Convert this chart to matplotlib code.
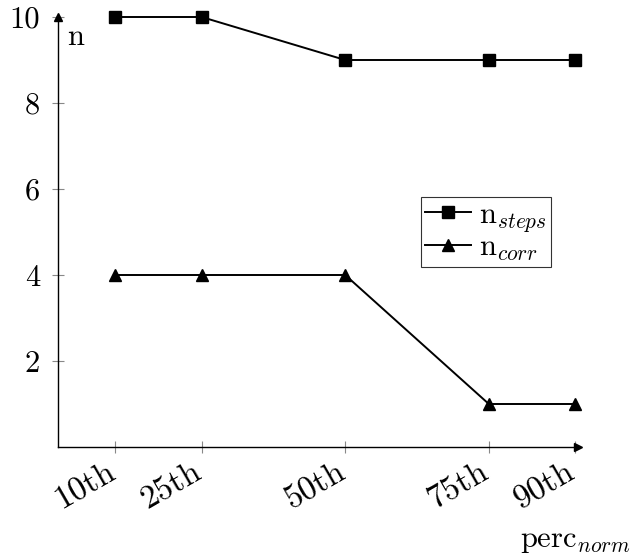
import matplotlib
matplotlib.use("Agg")
from matplotlib import pyplot as plt
from matplotlib.transforms import ScaledTranslation

percentiles = [10, 25, 50, 75, 90]
perc_labels = ["10th", "25th", "50th", "75th", "90th"]
n_steps = [10, 10, 9, 9, 9]
n_corr = [4, 4, 4, 1, 1]
y_ticks = [2, 4, 6, 8, 10]


def main():
    plt.rcParams['font.family'] = 'cmr10'
    plt.rcParams['mathtext.fontset'] = 'cm'
    plt.rcParams['axes.unicode_minus'] = False

    fig = plt.figure(figsize=(6.32, 5.59), dpi=100)
    ax = fig.add_axes([58 / 632, 112 / 559, 517 / 632, 430 / 559])

    ax.plot(percentiles, n_steps, color='black', lw=1.4, marker='s',
            markersize=8, clip_on=False, zorder=3, label=r'$\mathrm{n}_{steps}$')
    ax.plot(percentiles, n_corr, color='black', lw=1.4, marker='^',
            markersize=8, clip_on=False, zorder=3, label=r'$\mathrm{n}_{corr}$')

    ax.set_xlim(0, 90)
    ax.set_ylim(0, 10)
    ax.set_xticks(percentiles)
    ax.set_xticklabels(perc_labels, rotation=30, ha='right', rotation_mode='anchor',
                       fontsize=24)
    ax.set_yticks(y_ticks)
    ax.set_yticklabels([str(v) for v in y_ticks], fontsize=22)
    ax.tick_params(direction='inout', length=8, color='#888888', width=0.8)
    ax.tick_params(axis='y', pad=9)
    ax.tick_params(axis='x', pad=3)
    shift = ScaledTranslation(-0.10, 0, fig.dpi_scale_trans)
    for lab in ax.get_xticklabels():
        lab.set_transform(lab.get_transform() + shift)

    for s in ['top', 'right']:
        ax.spines[s].set_visible(False)
    for s in ['left', 'bottom']:
        ax.spines[s].set_linewidth(1.0)
    # arrow heads
    ax.plot(1.006, 0, marker='>', color='black', markersize=6,
            transform=ax.transAxes, clip_on=False)
    ax.plot(0, 1.0, marker='^', color='black', markersize=6,
            transform=ax.transAxes, clip_on=False)

    ax.text(0.018, 0.985, 'n', transform=ax.transAxes, fontsize=22,
            ha='left', va='top')
    fig.text(575 / 632, 1 - 541 / 559, r'perc$_{norm}$', fontsize=22,
             ha='center', va='center')

    leg = ax.legend(loc='center', bbox_to_anchor=((486 - 58) / 517, (447 - 232) / 430),
                    fontsize=22, frameon=True, fancybox=False, edgecolor='black',
                    handlelength=1.5, handletextpad=0.25, borderpad=0.15,
                    labelspacing=0.0, borderaxespad=0)
    leg.get_frame().set_linewidth(0.8)

    fig.savefig('out.png', dpi=100)


if __name__ == '__main__':
    main()
